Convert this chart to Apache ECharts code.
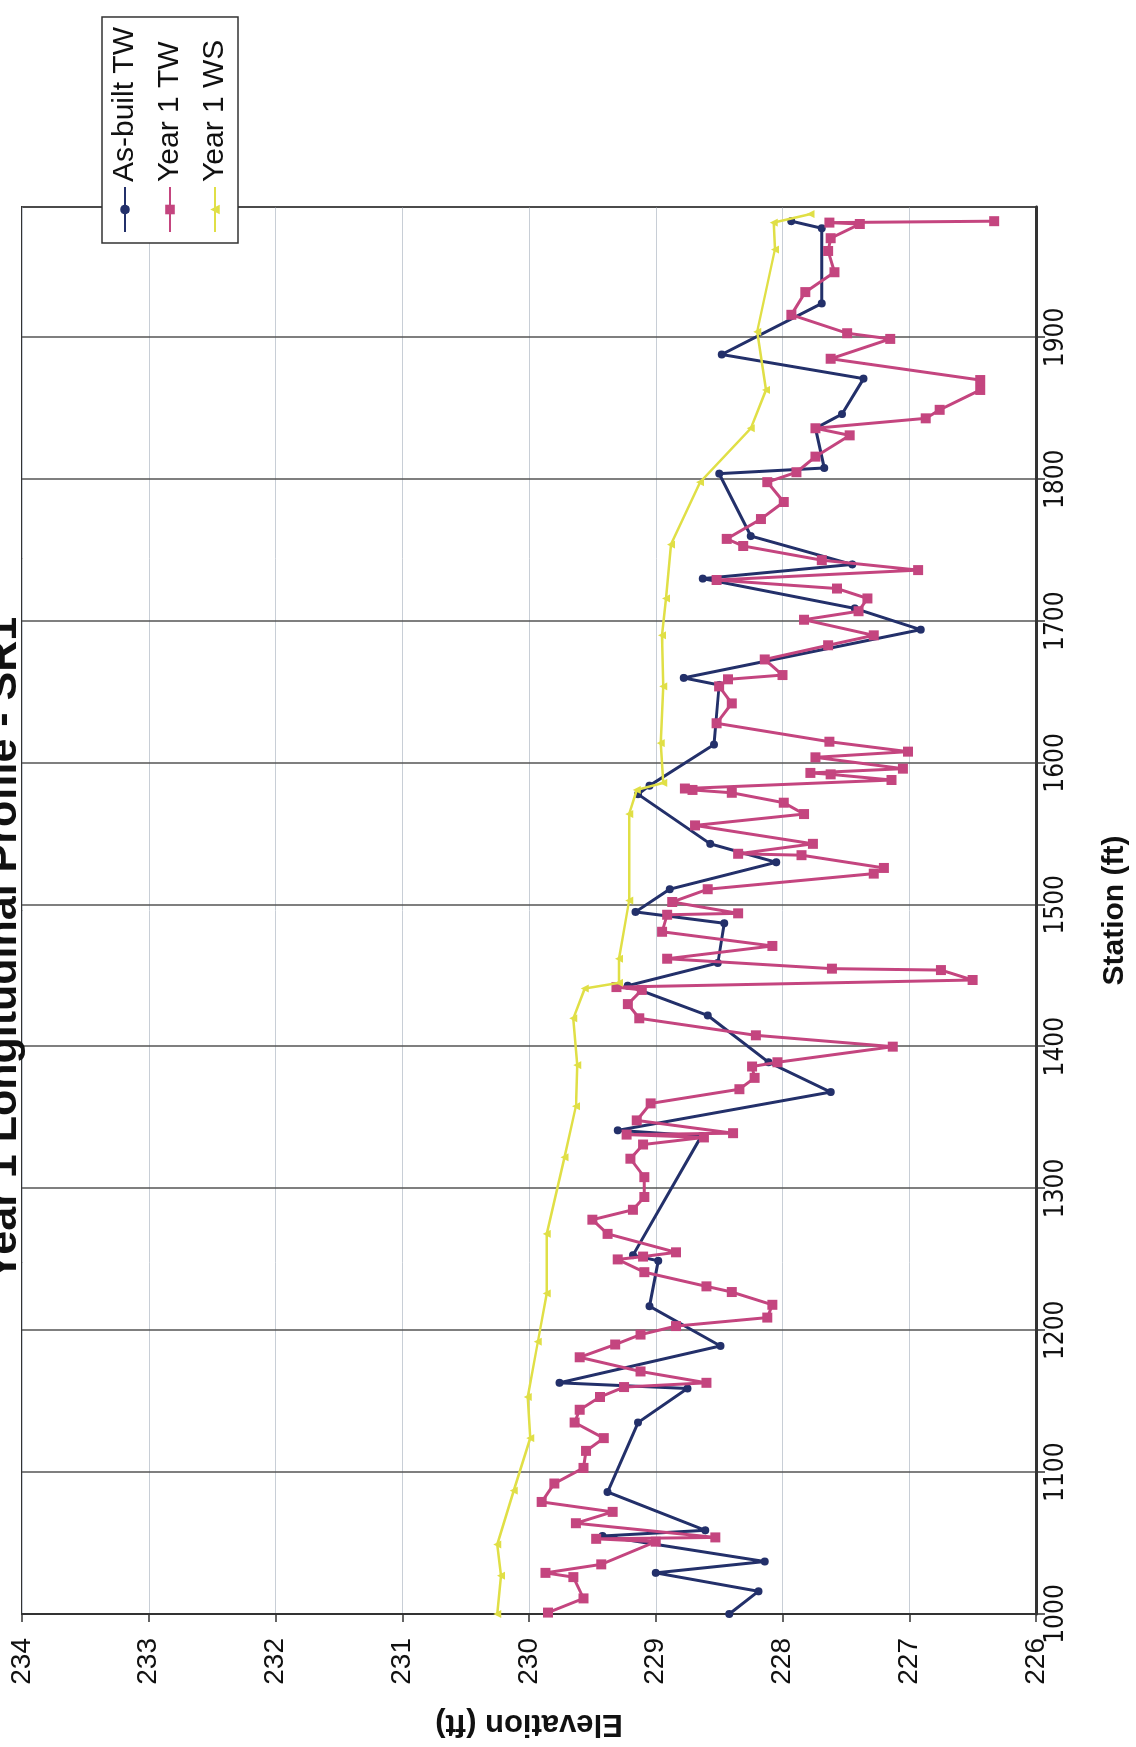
<!DOCTYPE html>
<html>
<head>
<meta charset="utf-8">
<title>Year 1 Longitudinal Profile - SR1</title>
<script src="https://cdn.jsdelivr.net/npm/echarts@6/dist/echarts.min.js"></script>
<style>
  html, body { margin: 0; padding: 0; background: #fff; }
  body { width: 1136px; height: 1747px; overflow: hidden; position: relative; }
  /* the scanned page lies on its side: draw the chart landscape, then turn it */
  #chart {
    position: absolute; left: 0; top: 0;
    width: 1747px; height: 1136px;
    transform-origin: 0 0;
    transform: translateY(1747px) rotate(-90deg);
  }
</style>
</head>
<body>
<div id="chart"></div>
<script>
// [station (ft), elevation (ft)]
const asBuiltTW = [
  [1000, 228.42], [1016, 228.19], [1029, 229.00], [1037, 228.14], [1055, 229.42],
  [1059, 228.61], [1086, 229.38], [1135, 229.14], [1159, 228.75], [1163, 229.76],
  [1189, 228.49], [1217, 229.05], [1249, 228.98], [1253, 229.18], [1337, 228.64],
  [1341, 229.30], [1368, 227.62], [1389, 228.11], [1422, 228.59], [1443, 229.22],
  [1459, 228.51], [1487, 228.46], [1495, 229.16], [1511, 228.89], [1530, 228.05],
  [1543, 228.57], [1578, 229.14], [1584, 229.05], [1613, 228.54], [1655, 228.50],
  [1660, 228.78], [1694, 226.91], [1709, 227.43], [1730, 228.63], [1740, 227.45],
  [1760, 228.25], [1804, 228.50], [1808, 227.67], [1836, 227.74], [1846, 227.53],
  [1871, 227.36], [1888, 228.48], [1924, 227.69], [1977, 227.69], [1982, 227.93]
]

const year1TW = [
  [1001, 229.85], [1011, 229.57], [1026, 229.65], [1029, 229.87], [1035, 229.43],
  [1051, 229.00], [1053, 229.47], [1054, 228.53], [1064, 229.63], [1072, 229.34],
  [1079, 229.90], [1092, 229.80], [1103, 229.57], [1115, 229.55], [1124, 229.41],
  [1135, 229.64], [1144, 229.60], [1153, 229.44], [1160, 229.25], [1163, 228.60],
  [1171, 229.12], [1181, 229.60], [1190, 229.32], [1197, 229.12], [1203, 228.84],
  [1209, 228.12], [1218, 228.08], [1227, 228.40], [1231, 228.60], [1241, 229.09],
  [1250, 229.30], [1252, 229.10], [1255, 228.84], [1268, 229.38], [1278, 229.50],
  [1285, 229.18], [1294, 229.09], [1308, 229.09], [1321, 229.20], [1331, 229.10],
  [1336, 228.62], [1338, 229.23], [1339, 228.39], [1348, 229.15], [1360, 229.04],
  [1370, 228.34], [1378, 228.22], [1386, 228.24], [1389, 228.04], [1400, 227.13],
  [1408, 228.21], [1420, 229.13], [1430, 229.22], [1440, 229.11], [1442, 229.31],
  [1447, 226.50], [1454, 226.75], [1455, 227.61], [1462, 228.91], [1471, 228.08],
  [1481, 228.95], [1493, 228.91], [1494, 228.35], [1502, 228.87], [1511, 228.59],
  [1522, 227.28], [1526, 227.20], [1535, 227.85], [1536, 228.35], [1543, 227.76],
  [1556, 228.69], [1564, 227.83], [1572, 227.99], [1579, 228.40], [1581, 228.71],
  [1582, 228.77], [1588, 227.14], [1592, 227.62], [1593, 227.78], [1596, 227.05],
  [1604, 227.74], [1608, 227.01], [1615, 227.63], [1628, 228.52], [1642, 228.40],
  [1654, 228.50], [1659, 228.43], [1662, 228.00], [1673, 228.14], [1683, 227.64],
  [1690, 227.28], [1701, 227.83], [1707, 227.40], [1716, 227.33], [1723, 227.57],
  [1729, 228.52], [1736, 226.93], [1743, 227.69], [1753, 228.31], [1758, 228.44],
  [1772, 228.17], [1784, 227.99], [1798, 228.12], [1805, 227.89], [1816, 227.74],
  [1831, 227.47], [1836, 227.74], [1843, 226.87], [1849, 226.76], [1863, 226.44],
  [1870, 226.44], [1885, 227.62], [1899, 227.15], [1903, 227.49], [1916, 227.93],
  [1932, 227.82], [1946, 227.59], [1961, 227.64], [1970, 227.62], [1980, 227.39],
  [1981, 227.63], [1982, 226.33]
]

const year1WS = [
  [1000, 230.25], [1027, 230.22], [1049, 230.25], [1087, 230.12], [1124, 229.99],
  [1153, 230.01], [1192, 229.93], [1226, 229.86], [1268, 229.86], [1322, 229.72],
  [1358, 229.63], [1387, 229.62], [1420, 229.65], [1441, 229.56], [1445, 229.29],
  [1462, 229.29], [1503, 229.21], [1564, 229.21], [1581, 229.15], [1586, 228.94],
  [1614, 228.96], [1654, 228.94], [1690, 228.95], [1716, 228.92], [1754, 228.88],
  [1798, 228.65], [1836, 228.25], [1863, 228.13], [1904, 228.20], [1962, 228.06],
  [1981, 228.07], [1987, 227.78]
]

const seriesNames = ['As-built TW', 'Year 1 TW', 'Year 1 WS']
const font = 'Liberation Sans, Arial, sans-serif'
const narrowFont = 'Liberation Sans Narrow, DejaVu Sans Condensed, Liberation Sans, sans-serif'

const chart = echarts.init(document.getElementById('chart'), null, { width: 1747, height: 1136 })

const option = {
  animation: false,
  backgroundColor: '#ffffff',
  title: {
    text: 'Year 1 Longitudinal Profile - SR1',
    left: 466,
    top: -17,
    padding: 0,
    textStyle: { fontFamily: font, fontSize: 43, fontWeight: 'bold', color: '#111' }
  },
  legend: {
    data: seriesNames,
    orient: 'vertical',
    left: 1504,
    top: 102,
    padding: [8, 10, 8, 10],
    itemWidth: 45,
    itemHeight: 12,
    itemGap: 15,
    borderColor: '#333',
    borderWidth: 1.5,
    backgroundColor: '#fff',
    textStyle: { fontFamily: font, fontSize: 30, lineHeight: 30, color: '#111' }
  },
  grid: {
    left: 131,
    right: 207,
    top: 22,
    bottom: 100,
    show: true,
    borderColor: '#333',
    borderWidth: 2
  },
  xAxis: {
    type: 'value',
    min: 1000,
    max: 1992,
    interval: 100,
    name: 'Station (ft)',
    nameLocation: 'middle',
    nameGap: 64,
    nameTextStyle: { fontFamily: font, fontSize: 30, fontWeight: 'bold', color: '#111' },
    axisLine: { onZero: false, lineStyle: { color: '#333', width: 3 } },
    axisTick: { length: 9, lineStyle: { color: '#333', width: 1.5 } },
    axisLabel: {
      margin: 7,
      fontFamily: narrowFont,
      fontSize: 26,
      color: '#111',
      showMaxLabel: false,
      formatter: function (value) {
        return String(value)
      }
    },
    splitLine: { lineStyle: { color: '#555', width: 1.5 } }
  },
  yAxis: {
    type: 'value',
    min: 226,
    max: 234,
    interval: 1,
    name: 'Elevation (ft)',
    nameLocation: 'middle',
    nameRotate: 90,
    nameGap: 94,
    nameTextStyle: { fontFamily: font, fontSize: 31, fontWeight: 'bold', color: '#111' },
    axisLine: { show: true, onZero: false, lineStyle: { color: '#333', width: 2 } },
    axisTick: { show: true, length: 8, lineStyle: { color: '#333', width: 1.5 } },
    axisLabel: { margin: 24, fontFamily: font, fontSize: 28, color: '#111' },
    splitLine: { lineStyle: { color: '#c8ced6', width: 1 } }
  },
  series: [
    {
      name: seriesNames[0],
      type: 'line',
      data: asBuiltTW,
      symbol: 'circle',
      symbolSize: 8,
      color: '#23306a',
      lineStyle: { width: 3, color: '#23306a' },
      z: 2
    },
    {
      name: seriesNames[1],
      type: 'line',
      data: year1TW,
      symbol: 'rect',
      symbolSize: 10,
      color: '#c4457f',
      lineStyle: { width: 3, color: '#c4457f' },
      z: 3
    },
    {
      name: seriesNames[2],
      type: 'line',
      data: year1WS,
      symbol: 'triangle',
      symbolSize: 8,
      color: '#e0df46',
      lineStyle: { width: 2.5, color: '#e0df46' },
      z: 4
    }
  ]
}

chart.setOption(option)
</script>
</body>
</html>
